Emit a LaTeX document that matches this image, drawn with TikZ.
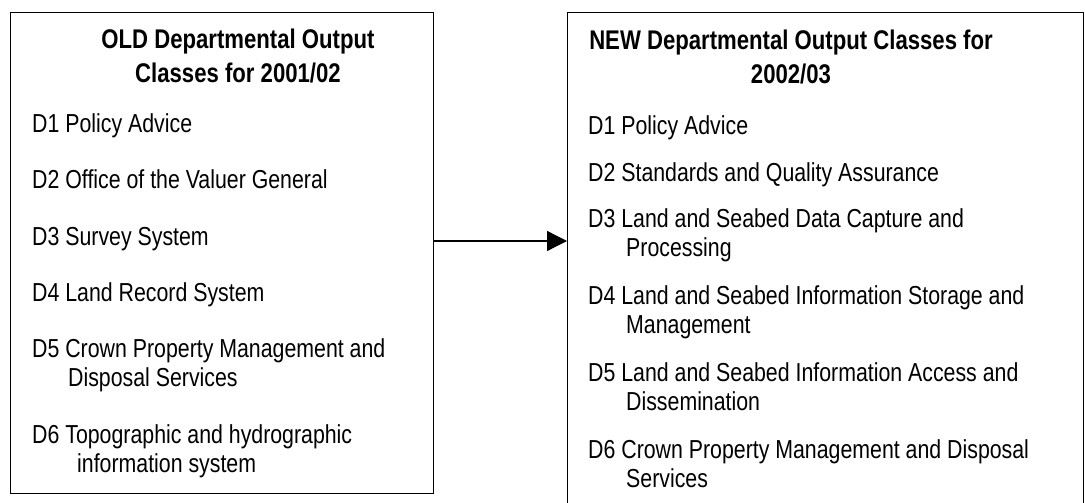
\documentclass[tikz,border=0pt]{standalone}
\usepackage{fontspec}
\setmainfont{Liberation Sans}[FakeStretch=0.82]
\usetikzlibrary{arrows.meta}
\tikzset{
  boxframe/.style={draw=black, line width=1.3pt, inner sep=0pt, anchor=north west},
  item/.style={anchor=base west, inner sep=0pt, font=\fontsize{26}{29.5}\selectfont},
  titletext/.style={anchor=base, inner sep=0pt, font=\fontsize{27}{34}\selectfont\bfseries},
  link/.style={line width=1.3pt, -{Triangle[length=20pt,width=20pt]}}
}
\newcommand{\twoline}[3]{\begin{tabular}[t]{@{}l@{}}#1\\\hspace*{#3}#2\end{tabular}}
\newcommand{\oneline}[1]{\begin{tabular}[t]{@{}l@{}}#1\end{tabular}}
\begin{document}
\begin{tikzpicture}[x=1pt,y=-1pt]
\useasboundingbox (0,0) rectangle (1085,503);
\node[boxframe, minimum width=423pt, minimum height=481pt] (oldbox) at (10,12) {};
\node[boxframe, minimum width=516pt, minimum height=520pt] (newbox) at (567,12) {};
\coordinate (ay) at (0,241);
\draw[link] (oldbox.east |- ay) -- (newbox.west |- ay);
% old title
\node[titletext] (oldtitle) at (238,49) {\begin{tabular}[t]{@{}c@{}}OLD Departmental Output\\Classes for 2001/02\end{tabular}};
% old items
\node[item] (o1) at (32,132) {\oneline{D1 Policy Advice}};
\node[item] (o2) at (32,188) {\oneline{D2 Office of the Valuer General}};
\node[item] (o3) at (32,245) {\oneline{D3 Survey System}};
\node[item] (o4) at (32,301) {\oneline{D4 Land Record System}};
\node[item] (o5) at (32,357) {\twoline{D5 Crown Property Management and}{Disposal Services}{36pt}};
\node[item] (o6) at (32,443) {\twoline{D6 Topographic and hydrographic}{information system}{45pt}};
% new title
\node[titletext] (newtitle) at (791,50) {\begin{tabular}[t]{@{}c@{}}NEW Departmental Output Classes for\\2002/03\end{tabular}};
% new items
\node[item] (n1) at (588,134) {\oneline{D1 Policy Advice}};
\node[item] (n2) at (588,181) {\oneline{D2 Standards and Quality Assurance}};
\node[item] (n3) at (588,227) {\twoline{D3 Land and Seabed Data Capture and}{Processing}{38pt}};
\node[item] (n4) at (588,304) {\twoline{D4 Land and Seabed Information Storage and}{Management}{38pt}};
\node[item] (n5) at (588,381) {\twoline{D5 Land and Seabed Information Access and}{Dissemination}{38pt}};
\node[item] (n6) at (588,458) {\twoline{D6 Crown Property Management and Disposal}{Services}{38pt}};
\end{tikzpicture}
\end{document}
